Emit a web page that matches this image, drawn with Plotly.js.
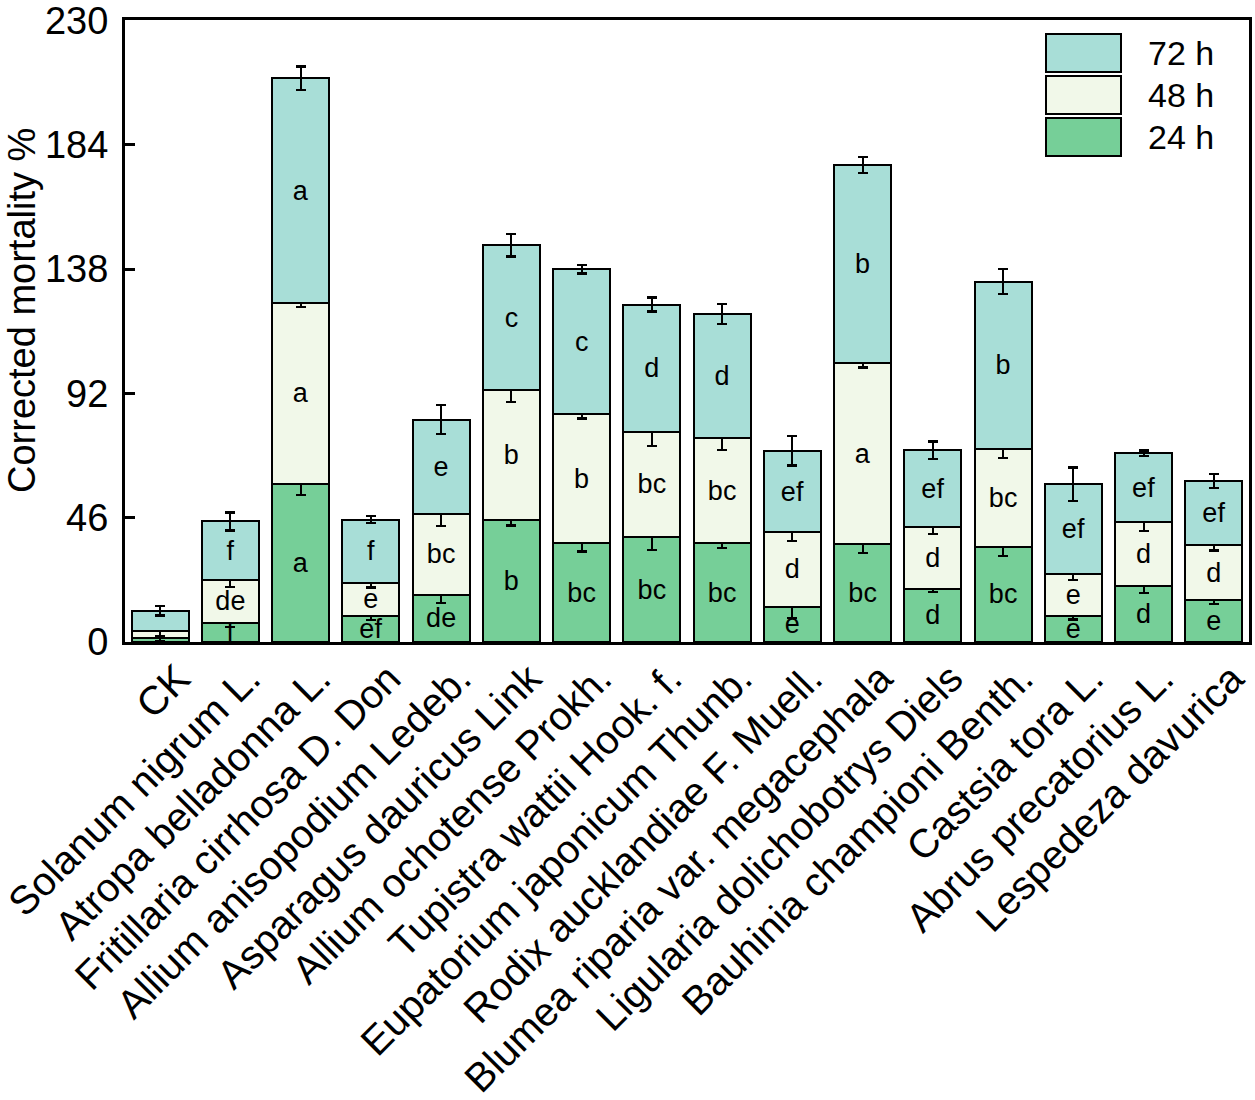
<!DOCTYPE html>
<html>
<head>
<meta charset="utf-8">
<script src="https://cdn.plot.ly/plotly-3.0.1.min.js"></script>
<style>
  body { margin: 0; background: #fff; }
  #myDiv { width: 1255px; height: 1100px; }
</style>
</head>
<body>
<div id="myDiv"></div>
<script>
// plant extracts (x categories)
var plants = ['CK', 'Solanum nigrum L.', 'Atropa belladonna L.', 'Fritillaria cirrhosa D. Don',
  'Allium anisopodium Ledeb.', 'Asparagus dauricus Link', 'Allium ochotense Prokh.',
  'Tupistra wattii Hook. f.', 'Eupatorium japonicum Thunb.', 'Rodix aucklandiae F. Muell.',
  'Blumea riparia var. megacephala', 'Ligularia dolichobotrys Diels', 'Bauhinia championi Benth.',
  'Castsia tora L.', 'Abrus precatorius L.', 'Lespedeza davurica'];

// corrected mortality % per time point (stacked segments)
var mort24 = [1.5, 7.1, 58.6, 9.6, 17.4, 45.3, 36.5, 38.7, 36.5, 13.0, 36.1, 19.8, 35.2, 9.7, 20.8, 15.5];
var mort48 = [2.7, 15.8, 66.9, 12.3, 30.1, 47.8, 47.7, 39.2, 39.0, 27.7, 67.1, 22.6, 36.3, 15.5, 23.5, 20.4];
var mort72 = [7.4, 21.7, 83.1, 23.4, 34.8, 53.8, 53.8, 47.0, 45.9, 30.0, 73.4, 28.5, 61.9, 33.2, 25.6, 23.6];

// standard errors
var err24 = [1.0, 1.5, 4.2, 1.5, 3.1, 2.2, 3.0, 4.6, 1.6, 4.0, 3.1, 1.2, 3.4, 1.4, 2.6, 1.5];
var err48 = [2.1, 2.6, 1.4, 1.7, 4.6, 4.3, 1.5, 5.5, 4.3, 3.2, 1.6, 2.5, 3.3, 2.3, 3.2, 2.0];
var err72 = [1.8, 3.3, 4.4, 1.2, 5.4, 4.2, 1.6, 2.6, 3.8, 5.4, 3.0, 3.3, 4.6, 6.2, 1.0, 2.6];

// significance letters
var sig24 = ['', 'f', 'a', 'ef', 'de', 'b', 'bc', 'bc', 'bc', 'e', 'bc', 'd', 'bc', 'e', 'd', 'e'];
var sig48 = ['', 'de', 'a', 'e', 'bc', 'b', 'b', 'bc', 'bc', 'd', 'a', 'd', 'bc', 'e', 'd', 'd'];
var sig72 = ['', 'f', 'a', 'f', 'e', 'c', 'c', 'd', 'd', 'ef', 'b', 'ef', 'b', 'ef', 'ef', 'ef'];

var yTicks = [0, 46, 92, 138, 184, 230];

var FONT = 'Liberation Sans, Arial, sans-serif';
var col72 = '#a8ded7';
var col48 = '#f1f8e9';
var col24 = '#76cf98';

function makeTrace(name, vals, errs, labels, color) {
  return {
    x: plants,
    y: vals,
    name: name,
    type: 'bar',
    text: labels,
    textposition: 'inside',
    insidetextanchor: 'middle',
    textangle: 0,
    constraintext: 'none',
    insidetextfont: {family: FONT, size: 27, color: 'black'},
    marker: {color: color, line: {color: 'black', width: 2}},
    error_y: {type: 'data', array: errs, visible: true, color: 'black', thickness: 2.2, width: 5},
    showlegend: false,
    hoverinfo: 'x+y+name'
  };
}

var data = [
  makeTrace('24 h', mort24, err24, sig24, col24),
  makeTrace('48 h', mort48, err48, sig48, col48),
  makeTrace('72 h', mort72, err72, sig72, col72)
];

// hand-drawn legend (big swatches like the original)
var L = 125, R = 6, T = 20, B = 458, W = 1255, H = 1100;
function px(x) { return (x - L) / (W - L - R); }
function py(y) { return (H - B - y) / (H - B - T); }

var legendItems = [['72 h', col72, 34], ['48 h', col48, 76], ['24 h', col24, 118]];
var shapes = [];
var annotations = [];
legendItems.forEach(function(item) {
  shapes.push({
    type: 'rect', xref: 'paper', yref: 'paper',
    x0: px(1046), x1: px(1121), y0: py(item[2]), y1: py(item[2] + 38),
    fillcolor: item[1], line: {color: 'black', width: 2}
  });
  annotations.push({
    xref: 'paper', yref: 'paper', x: px(1146), y: py(item[2] + 19),
    xanchor: 'left', yanchor: 'middle', showarrow: false,
    text: item[0], font: {family: FONT, size: 34, color: 'black'}
  });
});

// y axis title, placed a bit above the plot centre as in the original
annotations.push({
  xref: 'paper', yref: 'paper', x: px(0), y: py(311),
  xanchor: 'left', yanchor: 'middle', textangle: -90, showarrow: false,
  borderpad: 0,
  text: 'Corrected mortality %', font: {family: FONT, size: 38, color: 'black'}
});

var layout = {
  width: W,
  height: H,
  margin: {l: L, r: R, t: T, b: B},
  barmode: 'stack',
  bargap: 0.19,
  paper_bgcolor: 'white',
  plot_bgcolor: 'white',
  font: {family: FONT, color: 'black'},
  xaxis: {
    range: [-0.5, 15.5],
    tickangle: -45,
    tickfont: {family: FONT, size: 40, color: 'black'},
    ticklabelshift: 18,
    ticklabelstandoff: -6,
    showline: true, mirror: true, linewidth: 3, linecolor: 'black',
    ticks: '', showgrid: false, zeroline: false, automargin: false
  },
  yaxis: {
    range: [0, 230.2],
    tickvals: yTicks,
    ticklabeloverflow: 'allow',
    tickfont: {family: FONT, size: 38, color: 'black'},
    ticks: 'inside', ticklen: 10, tickwidth: 3, tickcolor: 'black',
    ticklabelstandoff: 6,
    showline: true, mirror: true, linewidth: 3, linecolor: 'black',
    showgrid: false, zeroline: false, automargin: false
  },
  shapes: shapes,
  annotations: annotations
};

Plotly.newPlot('myDiv', data, layout, {displayModeBar: false});
</script>
</body>
</html>
